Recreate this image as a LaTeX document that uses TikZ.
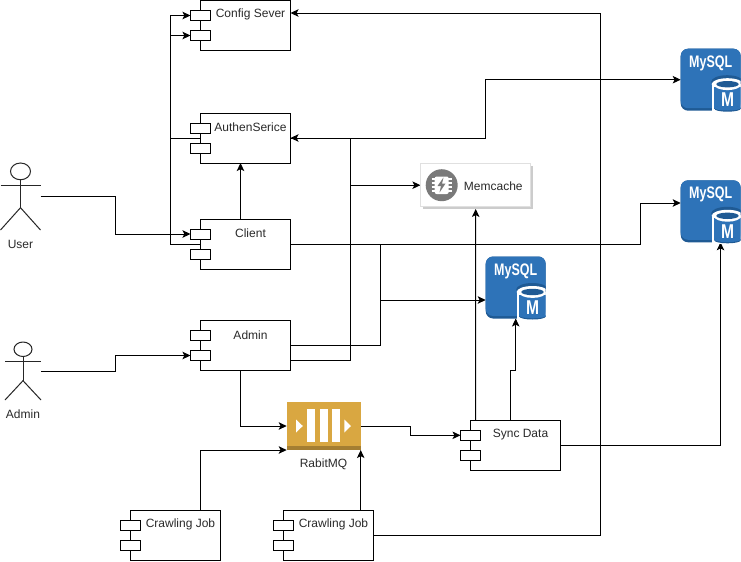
\documentclass[tikz,border=0pt]{standalone}
\usepackage{graphicx}
\usepackage{fontspec}
\setmainfont{Liberation Sans}
\usetikzlibrary{arrows.meta,backgrounds,calc}
\definecolor{txtc}{HTML}{2A2A2A}
\definecolor{mysqlb}{HTML}{2E73B8}
\definecolor{mysqld}{HTML}{1F5A94}
\definecolor{mqc}{HTML}{D9A741}
\definecolor{mqd}{HTML}{A47E32}
\definecolor{gic}{HTML}{7A7A7A}
\tikzset{
  conn/.style={draw=black,line width=.75pt,-{Stealth[length=6pt,width=5.6pt,inset=1.4pt]}},
  wire/.style={draw=black,line width=.75pt},
  compb/.style={draw=black,fill=white,line width=.75pt,minimum width=67.5pt,minimum height=37.5pt,inner sep=0pt,outer sep=0pt},
  compp/.style={draw=black,fill=white,line width=.75pt,minimum width=15pt,minimum height=7.5pt,inner sep=0pt,outer sep=0pt},
  lbl/.style={font=\fontsize{9pt}{11pt}\selectfont,text=txtc,inner sep=0pt,outer sep=0pt},
  stick/.style={draw=black!85,line width=.75pt},
  ghost/.style={inner sep=0pt,outer sep=0pt}
}
\newcommand{\compbox}[4]{%
  \node[compb] (#1) at (#2,#3) {};
  \node[compp] (#1a) at ({#2-45},{#3-10}) {};
  \node[compp] (#1b) at ({#2-45},{#3+10}) {};
  \node[lbl] (#1t) at ({#2+5},{#3-10.7}) {#4};
}
% name, centre x, centre y, width, height, label y, label
\newcommand{\actorfig}[7]{%
  \node[ghost,minimum width={#4*.75pt},minimum height={#5*.75pt}] (#1) at (#2,#3) {};
  \begin{scope}[shift={(#2,#3)}]
    \draw[stick] (0,{-#5/2+#5/8}) ellipse ({#4/4} and {#5/8});
    \draw[stick] (0,{-#5/2+#5/4}) -- (0,{-#5/2+2*#5/3});
    \draw[stick] ({-#4/2},{-#5/2+#5/3}) -- ({#4/2},{-#5/2+#5/3});
    \draw[stick] ({-#4/2},{#5/2}) -- (0,{-#5/2+2*#5/3}) -- ({#4/2},{#5/2});
  \end{scope}
  \node[lbl] (#1t) at (#2,#6) {#7};
}
% name, left x, top y
\newcommand{\mysqlicon}[3]{%
  \node[ghost,minimum width=45pt,minimum height=46.5pt] (#1) at ({#2+30},{#3+31}) {};
  \begin{scope}[shift={(#2,#3)}]
    \fill[mysqld,rounded corners=5.5pt] (0,0) rectangle (60,62);
    \fill[mysqlb,rounded corners=5.5pt] (0,0) rectangle (60,59.5);
    \begin{scope}
      \clip (0,0) rectangle (60,64);
      \fill[mysqld] (46.5,33) ellipse (16 and 6.5);
      \fill[white] (31,35) rectangle (60,64);
      \fill[white] (46.8,35.5) ellipse (15.8 and 6);
      \fill[mysqlb] (33.6,38) rectangle (60,60);
      \fill[mysqld] (46.8,60) ellipse (13.2 and 3);
      \fill[mysqlb] (46.8,59.3) ellipse (13.2 and 2.5);
      \fill[white] (46.8,36.2) ellipse (13.2 and 5.2);
      \fill[mysqld] (46.8,35.5) ellipse (11.2 and 3.2);
    \end{scope}
  \end{scope}
  \node[ghost,text=white,font=\bfseries\fontsize{12.5pt}{14pt}\selectfont] (#1t) at ({#2+30},{#3+14.5}) {\scalebox{.75}[1]{MySQL}};
  \node[ghost,text=white,font=\bfseries\fontsize{15pt}{17pt}\selectfont] (#1m) at ({#2+47},{#3+51}) {\scalebox{.78}[1]{M}};
}
\begin{document}
\begin{tikzpicture}[x=.75pt,y=-.75pt]
\path[use as bounding box] (0,0) rectangle (741,561);

\compbox{config}{245.5}{25.5}{Config Sever}
\compbox{authen}{245.5}{138}{AuthenSerice}
\compbox{client}{245.5}{244}{Client}
\compbox{admin}{245.5}{345.5}{Admin}
\compbox{crawla}{175.5}{535}{Crawling Job}
\compbox{crawlb}{328.5}{535}{Crawling Job}
\compbox{sync}{515.5}{445.3}{Sync Data}

\actorfig{user}{20.5}{196.5}{40}{67}{244}{User}
\actorfig{adminp}{23}{371}{36}{58}{414}{Admin}

% queue
\node[ghost,fill=mqc,minimum width=55.5pt,minimum height=36pt] (mq) at (323.7,426) {};
\fill[mqd] (mq.south west) rectangle ($(mq.south east)+(0,-4)$);
\fill[white] (307,408.5) rectangle (315,442);
\fill[white] (319.5,408.5) rectangle (327.5,442);
\fill[white] (332,408.5) rectangle (340,442);
\fill[white] (296,419.5) -- (302.8,426) -- (296,432.5) -- cycle;
\fill[white] (344.3,419.5) -- (351,426) -- (344.3,432.5) -- cycle;
\node[lbl] (mqt) at (323.5,464) {RabitMQ};

% memcache
\fill[black!20] (422.5,165.5) rectangle (533,209);
\node[ghost,draw=black!12,fill=white,line width=.75pt,minimum width=82.9pt,minimum height=32.6pt] (mem) at (475.7,185.2) {};
\fill[gic] (441.7,185.2) circle (16);
\fill[white,rounded corners=1.5pt] (434.7,176.5) rectangle (448.7,194);
\foreach \py in {179,183,187,191}{
  \draw[white,line width=1.1pt] (431.5,\py) -- (451.9,\py);
}
\fill[gic] (443.5,177.5) -- (437.5,186) -- (441,186) -- (439.5,192.5) -- (445.5,183.5) -- (442,183.5) -- cycle;
\node[lbl] (memt) at (493.3,186) {Memcache};

\mysqlicon{dba}{680.7}{48.7}
\mysqlicon{dbb}{680.7}{180.3}
\mysqlicon{dbc}{485.7}{256.5}

\begin{scope}[on background layer]
  \fill[white] (0,0) rectangle (741,561);
  % left bus
  \coordinate (busl) at (170.5,0);
  \draw[conn] (client.west) -- (busl |- client.west) -- (busl |- configa.west) -- (configa.west);
  \draw[conn] (busl |- configb.west) -- (configb.west);
  \draw[wire] (authen.west) -- (busl |- authen.west);
  % actors
  \draw[conn] (user.east) -- (115.5,0 |- user.east) -- (115.5,0 |- clienta.west) -- (clienta.west);
  \draw[conn] (adminp.east) -- (115.5,0 |- adminp.east) -- (115.5,0 |- adminb.west) -- (adminb.west);
  % client to authen
  \draw[conn] (240.5,0 |- client.north) -- (240.5,0 |- authen.south);
  % crawl b to config
  \draw[conn] (crawlb.east) -- (600.5,0 |- crawlb.east) -- (600.5,13) -- (config.east |- 0,13);
  % admin to authen
  \draw[conn] (admin.east |- 0,360) -- (350.5,360) -- (350.5,0 |- authen.east) -- (authen.east);
  % authen to memcache and db a
  \draw[conn] (350.5,0 |- mem.west) -- (mem.west);
  \draw[conn] (authen.east) -- (485.5,0 |- authen.east) -- (485.5,0 |- dba.west) -- (dba.west);
  % client to db b
  \draw[conn] (client.east) -- (640.5,0 |- client.east) -- (640.5,203) -- (dbb.west |- 0,203);
  % client/admin to db c
  \draw[wire] (380.5,0 |- client.east) -- (380.5,0 |- admin.east) -- (admin.east);
  \draw[conn] (380.5,300) -- (dbc.west |- 0,300);
  % queue
  \draw[conn] (240.5,0 |- admin.south) -- (240.5,0 |- mq.west) -- (mq.west);
  \draw[conn] (200.5,0 |- crawla.north) -- (200.5,0 |- mq.south west) -- (mq.south west);
  \draw[conn] (mq.south east |- crawlb.north) -- (mq.south east);
  \draw[conn] (mq.east) -- (410.5,0 |- mq.east) -- (410.5,0 |- synca.west) -- (synca.west);
  % sync
  \draw[conn] (475.5,0 |- sync.north) -- ([yshift=-1.5pt]mem.south);
  \draw[conn] (510.5,0 |- sync.north) -- (510.5,370.5) -- (dbc.south |- 0,370.5) -- (dbc.south);
  \draw[conn] (sync.east) -- (720.5,0 |- sync.east) -- (720.5,0 |- dbb.south);
\end{scope}
\end{tikzpicture}
\end{document}
